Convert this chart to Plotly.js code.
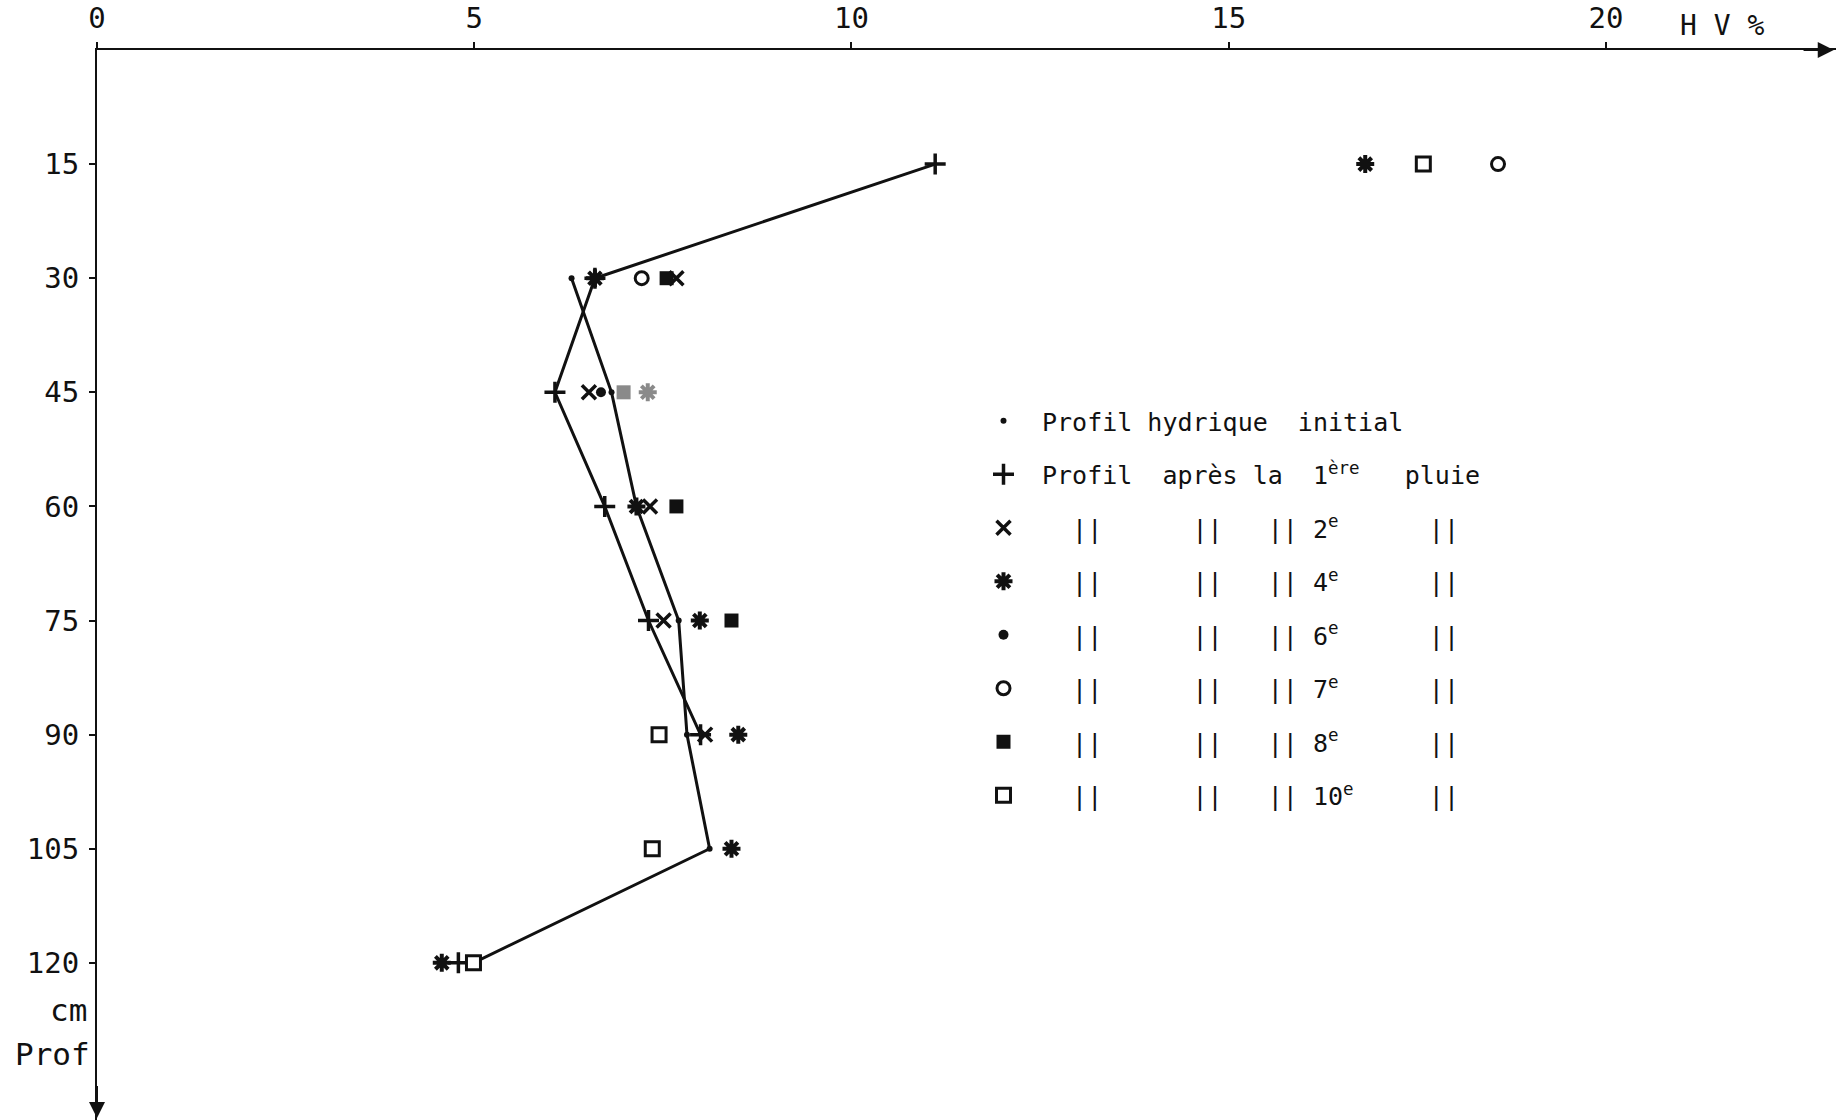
<!DOCTYPE html>
<html>
<head>
<meta charset="utf-8">
<script src="https://cdn.plot.ly/plotly-3.0.1.min.js"></script>
<style>
  html, body { margin: 0; padding: 0; background: #fff; }
  #chart { width: 1836px; height: 1120px; }
</style>
</head>
<body>
<div id="chart"></div>
<script>
// profondeur (cm) and humidite volumique (HV %)
const depth = [15, 30, 45, 60, 75, 90, 105, 120];
const hvInitial = [null, 6.29, 6.82, 7.15, 7.71, 7.82, 8.12, 4.99];
const hvPluie1 = [11.11, 6.60, 6.07, 6.73, 7.31, 8.00, null, 4.79];
const hvPluie2 = [null, 7.68, 6.52, 7.33, 7.51, 8.06, null, null];
const hvPluie4 = [16.81, 6.60, 7.30, 7.15, 7.99, 8.50, 8.41, 4.57];
const hvPluie6 = [null, null, 6.68, null, null, null, null, null];
const hvPluie7 = [18.57, 7.22, null, null, null, null, null, null];
const hvPluie8 = [null, 7.55, 6.98, 7.68, 8.41, null, null, null];
const hvPluie10 = [17.58, null, null, null, null, 7.45, 7.36, 4.99];

const xTicks = [0, 5, 10, 15, 20];
const yTicks = [15, 30, 45, 60, 75, 90, 105, 120];

const sp = n => '\u00a0'.repeat(n);
const ditto = num => sp(2) + '||' + sp(6) + '||' + sp(3) + '||' + sp(1) + num + '<sup>e</sup>' + sp(num.length > 1 ? 5 : 6) + '||';

const mono = 'DejaVu Sans Mono, monospace';
const ink = '#111';
const grey = '#8a8a8a';

// points at 45 cm came out grey in the scan
const greyAt45 = arr => depth.map(d => d === 45 ? grey : ink);

function pts(x, name, marker, group) {
  return {
    x: x, y: depth, type: 'scatter', mode: 'markers', name: name,
    legendgroup: group, marker: marker, cliponaxis: false, hoverinfo: 'x+y'
  };
}
function line(x, group) {
  return {
    x: x, y: depth, type: 'scatter', mode: 'lines', showlegend: false,
    legendgroup: group, line: {color: ink, width: 3}, connectgaps: false, hoverinfo: 'skip'
  };
}

var data = [
  line(hvInitial, 'g0'),
  line(hvPluie1, 'g1'),
  pts(hvInitial, 'Profil' + sp(1) + 'hydrique' + sp(2) + 'initial',
      {symbol: 'circle', size: 6, color: ink}, 'g0'),
  pts(hvPluie1, 'Profil' + sp(2) + 'après' + sp(1) + 'la' + sp(2) + '1<sup>ère</sup>' + sp(3) + 'pluie',
      {symbol: 'cross-thin', size: 15, line: {color: ink, width: 3.5}}, 'g1'),
  pts(hvPluie2, ditto('2'),
      {symbol: 'x-thin', size: 14, line: {color: ink, width: 3.5}}, 'g2'),
  pts(hvPluie4, ditto('4'),
      {symbol: 'asterisk', size: 15, line: {color: greyAt45(hvPluie4), width: 4}}, 'g4'),
  pts(hvPluie6, ditto('6'),
      {symbol: 'circle', size: 10, color: ink}, 'g6'),
  pts(hvPluie7, ditto('7'),
      {symbol: 'circle', size: 13, color: '#fff', line: {color: ink, width: 3}}, 'g7'),
  pts(hvPluie8, ditto('8'),
      {symbol: 'square', size: 14, color: greyAt45(hvPluie8), line: {width: 0}}, 'g8'),
  pts(hvPluie10, ditto('10'),
      {symbol: 'square', size: 14, color: '#fff', line: {color: ink, width: 3}}, 'g10')
];

var layout = {
  width: 1836, height: 1120,
  margin: {l: 97, r: 0, t: 50, b: 0},
  paper_bgcolor: '#fff', plot_bgcolor: '#fff',
  font: {family: mono, color: ink, size: 28},
  xaxis: {
    side: 'top', range: [0, 23.05], tickvals: xTicks, ticktext: xTicks.map(String),
    ticks: 'outside', ticklen: 6, tickwidth: 2, tickcolor: ink, ticklabelstandoff: 2,
    showline: true, linecolor: ink, linewidth: 2, showgrid: false, zeroline: false,
    tickfont: {family: mono, size: 29, color: ink}
  },
  yaxis: {
    range: [140.66, 0], tickvals: yTicks, ticktext: yTicks.map(String),
    ticks: 'outside', ticklen: 6, tickwidth: 2, tickcolor: ink, ticklabelstandoff: 4,
    showline: true, linecolor: ink, linewidth: 2, showgrid: false, zeroline: false,
    tickfont: {family: mono, size: 29, color: ink}
  },
  showlegend: true,
  legend: {
    x: (965 - 97) / 1739, y: 1 - (398 - 50) / 1070, xanchor: 'left', yanchor: 'top',
    bgcolor: 'rgba(0,0,0,0)', borderwidth: 0, itemwidth: 67,
    tracegroupgap: 18, font: {family: mono, size: 25, color: ink}
  },
  annotations: [
    {xref: 'x', yref: 'y', x: 23.02, y: 0, axref: 'x', ayref: 'y', ax: 22.6, ay: 0,
     text: '', showarrow: true, arrowhead: 2, arrowsize: 1.6, arrowwidth: 2, arrowcolor: ink},
    {xref: 'x', yref: 'y', x: 0, y: 140.4, axref: 'x', ayref: 'y', ax: 0, ay: 136,
     text: '', showarrow: true, arrowhead: 2, arrowsize: 1.6, arrowwidth: 2, arrowcolor: ink},
    {xref: 'paper', yref: 'paper', x: (1722 - 97) / 1739, y: 1 + (50 - 26) / 1070,
     xanchor: 'center', yanchor: 'middle', showarrow: false, text: 'H' + sp(1) + 'V' + sp(1) + '%',
     font: {family: mono, size: 28, color: ink}},
    {xref: 'paper', yref: 'paper', x: -8 / 1739, y: 1 - (1010 - 50) / 1070,
     xanchor: 'right', yanchor: 'middle', showarrow: false, text: 'cm',
     font: {family: mono, size: 31, color: ink}},
    {xref: 'paper', yref: 'paper', x: -5 / 1739, y: 1 - (1054 - 50) / 1070,
     xanchor: 'right', yanchor: 'middle', showarrow: false, text: 'Prof',
     font: {family: mono, size: 31, color: ink}}
  ]
};

Plotly.newPlot('chart', data, layout, {displayModeBar: false, staticPlot: true});
</script>
</body>
</html>
